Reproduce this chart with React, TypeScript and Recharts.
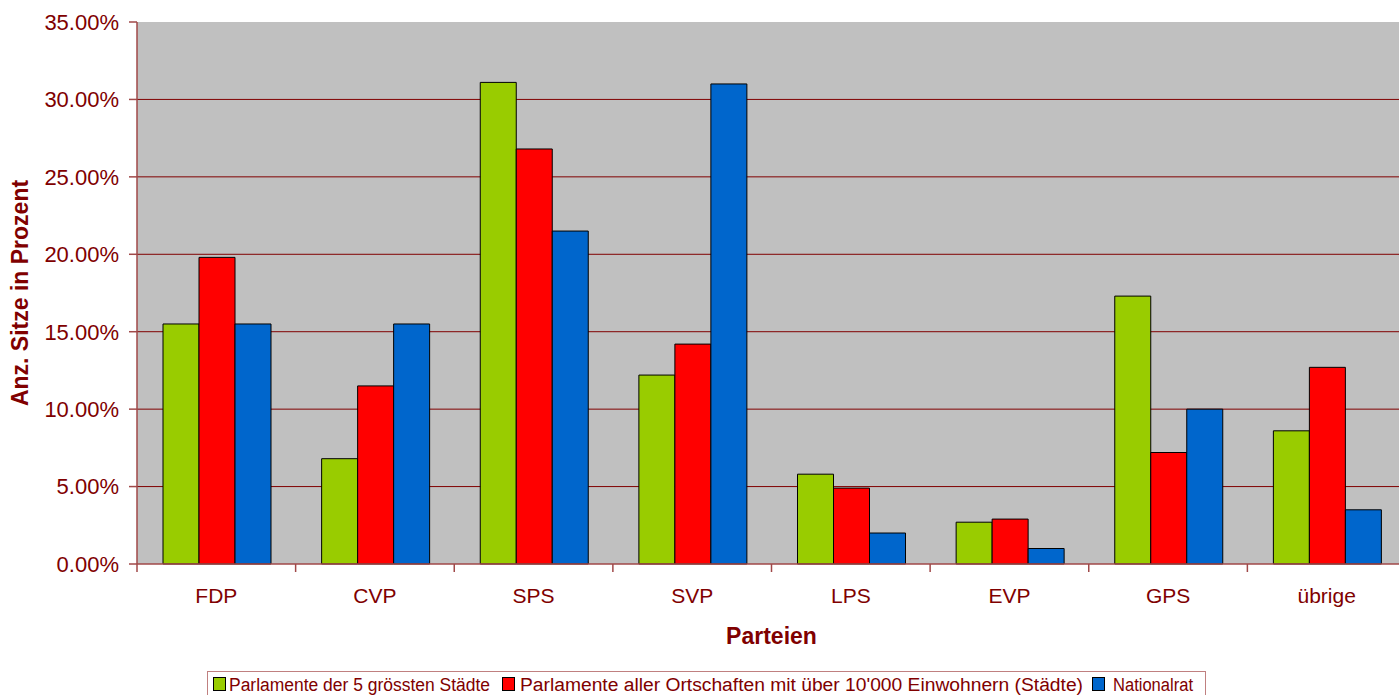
import React from "react";
import { BarChart, Bar, XAxis, YAxis, CartesianGrid } from "recharts";

const parties = ["FDP", "CVP", "SPS", "SVP", "LPS", "EVP", "GPS", "übrige"];
const staedte5 = [15.5, 6.8, 31.1, 12.2, 5.8, 2.7, 17.3, 8.6];
const ortschaften = [19.8, 11.5, 26.8, 14.2, 4.9, 2.9, 7.2, 12.7];
const nationalrat = [15.5, 15.5, 21.5, 31.0, 2.0, 1.0, 10.0, 3.5];
const yTicks = [0, 5, 10, 15, 20, 25, 30, 35];
const gridLines = [5, 10, 15, 20, 25, 30];

const series = [
  { key: "staedte5", name: "Parlamente der 5 grössten Städte", color: "#99CC00" },
  { key: "ortschaften", name: "Parlamente aller Ortschaften mit über 10'000 Einwohnern (Städte)", color: "#FF0000" },
  { key: "nationalrat", name: "Nationalrat", color: "#0066CC" },
];

// legend layout (left of swatch, left of text, text width)
const legendX = [6, 295, 885];
const legendTextX = [22, 313, 906];
const legendTextW = [261, 563, 80];

const data = parties.map((p, i) => ({
  party: p,
  staedte5: staedte5[i],
  ortschaften: ortschaften[i],
  nationalrat: nationalrat[i],
}));

const TEXT = "#800000";
const AXIS = "#a04848";
const FONT = "'Liberation Sans', Arial, sans-serif";
const CHART_W = 1406;
const Y_W = 137;
const HALF_BAND = (CHART_W - Y_W) / parties.length / 2;

function XTick(props: any) {
  const { x, y, payload } = props;
  return (
    <g>
      <line x1={x - HALF_BAND} x2={x - HALF_BAND} y1={y} y2={y + 8} stroke={AXIS} strokeWidth={1.5} />
      <text x={x} y={y + 39} textAnchor="middle" fill={TEXT} fontSize={21} fontFamily={FONT}>
        {payload.value}
      </text>
    </g>
  );
}

function YTitle() {
  return (
    <text
      x={20}
      y={293}
      transform="rotate(-90, 20, 293)"
      textAnchor="middle"
      dominantBaseline="central"
      fill={TEXT}
      fontSize={23}
      fontWeight="bold"
      fontFamily={FONT}
    >
      Anz. Sitze in Prozent
    </text>
  );
}

function LegendBox() {
  return (
    <svg
      width={1000}
      height={24}
      style={{ position: "absolute", left: 207, top: 671, display: "block" }}
    >
      <rect x={0.5} y={0.5} width={998} height={40} fill="#fff" stroke="#c08080" strokeWidth={1} />
      {series.map((s, i) => (
        <g key={s.key}>
          <rect x={legendX[i] + 0.5} y={6.5} width={12} height={13} fill={s.color} stroke="#000" strokeWidth={1} />
          <text
            x={legendTextX[i]}
            y={20}
            fill={TEXT}
            fontSize={18}
            fontFamily={FONT}
            textLength={legendTextW[i]}
            lengthAdjust="spacingAndGlyphs"
          >
            {s.name}
          </text>
        </g>
      ))}
    </svg>
  );
}

export default function App() {
  return (
    <div
      style={{
        position: "absolute",
        left: 0,
        top: 0,
        width: 1399,
        height: 695,
        overflow: "hidden",
        background: "#fff",
        fontFamily: FONT,
      }}
    >
      <BarChart
        width={CHART_W}
        height={695}
        data={data}
        margin={{ top: 22, right: 0, left: 0, bottom: 0 }}
        barCategoryGap={26}
        barGap={0}
      >
        <CartesianGrid
          vertical={false}
          horizontalValues={gridLines}
          stroke={TEXT}
          strokeWidth={1}
          fill="#c0c0c0"
        />
        <XAxis
          dataKey="party"
          height={131}
          tickLine={false}
          tickSize={0}
          tickMargin={0}
          interval={0}
          stroke={AXIS}
          strokeWidth={1.5}
          tick={<XTick />}
          label={{
            value: "Parteien",
            position: "insideTop",
            offset: 64,
            fill: TEXT,
            fontSize: 23,
            fontWeight: "bold",
            fontFamily: FONT,
          }}
        />
        <YAxis
          width={Y_W}
          domain={[0, 35]}
          ticks={yTicks}
          interval={0}
          tickSize={8}
          tickMargin={10}
          stroke={AXIS}
          strokeWidth={1.5}
          tick={{ fill: TEXT, fontSize: 22, fontFamily: FONT }}
          tickFormatter={(v: number) => v.toFixed(2) + "%"}
          label={<YTitle />}
        />
        {series.map((s) => (
          <Bar
            key={s.key}
            dataKey={s.key}
            name={s.name}
            fill={s.color}
            stroke="#000"
            strokeWidth={1}
            isAnimationActive={false}
          />
        ))}
      </BarChart>
      <LegendBox />
    </div>
  );
}
